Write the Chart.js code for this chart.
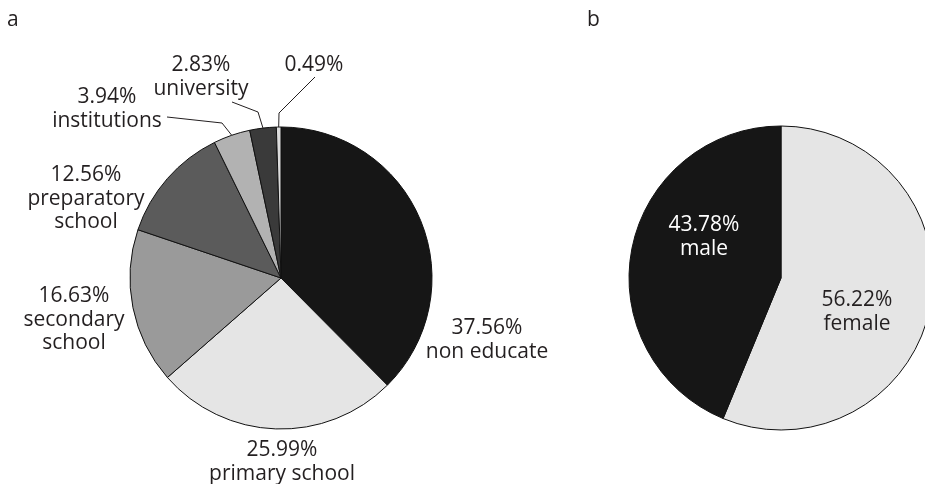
<!DOCTYPE html>
<html>
<head>
<meta charset="utf-8">
<script src="https://cdn.jsdelivr.net/npm/chart.js@4.4.0/dist/chart.umd.min.js"></script>
<style>
  html, body { margin: 0; padding: 0; background: #fff; overflow: hidden; }
  #wrap { position: relative; width: 925px; height: 484px; overflow: hidden; }
  #wrap canvas { position: absolute; left: 0; top: 0; }
</style>
</head>
<body>
<div id="wrap">
  <canvas id="education" width="925" height="484"></canvas>
  <canvas id="sex" width="960" height="484"></canvas>
</div>
<script>
// Panel a: education level (label lines per slice)
const educationLevels = [["non educate"], ["primary school"], ["secondary", "school"], ["preparatory", "school"], ["institutions"], ["university"], []];
const educationShares = [37.56, 25.99, 16.63, 12.56, 3.94, 2.83, 0.49];
const educationColors = ["#161616", "#e5e5e5", "#9a9a9a", "#5b5b5b", "#b2b2b2", "#3a3a3a", "#dcdcdc"];

// Panel b: sex
const sexes = [["female"], ["male"]];
const sexShares = [56.22, 43.78];
const sexColors = ["#e5e5e5", "#161616"];

const FONT = '21px "Open Sans", "Noto Sans", sans-serif';
const TEXT = "#231f20";
const LINE_H = 23.5;

// Label anchors relative to the pie centre: x = text centre, y = first baseline.
// Optional leader: points relative to the centre, finished at the slice's outer edge.
const educationLayout = [
  { dx: 206, dy: 56 },
  { dx: 1, dy: 178 },
  { dx: -207, dy: 24 },
  { dx: -195, dy: -97 },
  { dx: -174, dy: -175, leader: [[-114, -161], [-59, -155]] },
  { dx: -80, dy: -207, leader: [[-49, -176], [-23, -166]] },
  { dx: 33, dy: -207, leader: [[34, -201], [-2, -165]] }
];
const sexLayout = [
  { dx: 76, dy: 28, color: TEXT },
  { dx: -77, dy: -47, color: "#ffffff" }
];

function sliceLabels(layout, panel) {
  return {
    id: "sliceLabels",
    afterDatasetsDraw(chart) {
      const ctx = chart.ctx;
      const arcs = chart.getDatasetMeta(0).data;
      const values = chart.data.datasets[0].data;
      ctx.save();
      ctx.font = FONT;
      ctx.textAlign = "center";
      ctx.textBaseline = "alphabetic";
      arcs.forEach((arc, i) => {
        const cfg = layout[i];
        const cx = arc.x, cy = arc.y;
        const lines = [values[i].toFixed(2) + "%"].concat(chart.data.labels[i]);
        ctx.fillStyle = cfg.color || TEXT;
        lines.forEach((t, k) => ctx.fillText(t, cx + cfg.dx, cy + cfg.dy + k * LINE_H));
        if (cfg.leader) {
          const mid = (arc.startAngle + arc.endAngle) / 2;
          const ex = cx + Math.cos(mid) * arc.outerRadius;
          const ey = cy + Math.sin(mid) * arc.outerRadius;
          ctx.beginPath();
          ctx.strokeStyle = "#231f20";
          ctx.lineWidth = 1;
          cfg.leader.forEach((p, k) => {
            if (k === 0) ctx.moveTo(cx + p[0], cy + p[1]);
            else ctx.lineTo(cx + p[0], cy + p[1]);
          });
          ctx.lineTo(ex, ey);
          ctx.stroke();
        }
      });
      ctx.fillStyle = TEXT;
      ctx.textAlign = "left";
      ctx.fillText(panel.text, panel.x, panel.y);
      ctx.restore();
    }
  };
}

function makePie(id, labels, values, colors, radius, padding, layout, panel) {
  return new Chart(document.getElementById(id), {
    type: "pie",
    data: {
      labels: labels,
      datasets: [{
        data: values,
        backgroundColor: colors,
        borderColor: "#111111",
        borderWidth: 1,
        radius: radius
      }]
    },
    options: {
      responsive: false,
      animation: false,
      events: [],
      layout: { padding: padding },
      plugins: { legend: { display: false }, tooltip: { enabled: false } }
    },
    plugins: [sliceLabels(layout, panel)]
  });
}

makePie("education", educationLevels, educationShares, educationColors, 151,
  { left: 126, top: 123, right: 489, bottom: 51 }, educationLayout, { text: "a", x: 7, y: 26 });
makePie("sex", sexes, sexShares, sexColors, 152,
  { left: 626, top: 123, right: 24, bottom: 51 }, sexLayout, { text: "b", x: 587, y: 26 });
</script>
</body>
</html>
